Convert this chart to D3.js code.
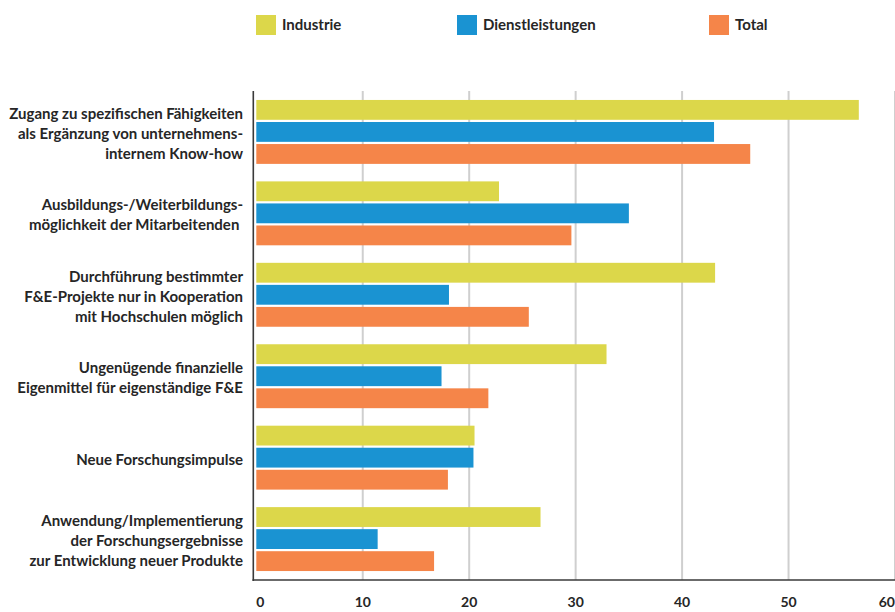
<!DOCTYPE html>
<html>
<head>
<meta charset="utf-8">
<script src="https://cdn.jsdelivr.net/npm/d3@7"></script>
<style>
  html, body { margin: 0; padding: 0; background: #fff; }
  svg { display: block; }
  text { font-family: Lato, "Liberation Sans", sans-serif; font-weight: bold; fill: #262626; }
</style>
</head>
<body>
<svg id="chart" width="895" height="612"></svg>
<script>
// Reasons for cooperation with universities (share of firms, %)
const categories = [
  ["Zugang zu spezifischen Fähigkeiten", "als Ergänzung von unternehmens-", "internem Know-how"],
  ["Ausbildungs-/Weiterbildungs-", "möglichkeit der Mitarbeitenden "],
  ["Durchführung bestimmter", "F&E-Projekte nur in Kooperation", "mit Hochschulen möglich"],
  ["Ungenügende finanzielle", "Eigenmittel für eigenständige F&E"],
  ["Neue Forschungsimpulse"],
  ["Anwendung/Implementierung", "der Forschungsergebnisse", "zur Entwicklung neuer Produkte"]
];
const seriesNames = ["Industrie", "Dienstleistungen", "Total"];
const industrie        = [56.6, 22.8, 43.1, 32.9, 20.5, 26.7];
const dienstleistungen = [43.0, 35.0, 18.1, 17.4, 20.4, 11.4];
const total            = [46.4, 29.6, 25.6, 21.8, 18.0, 16.7];
const xTicks = [0, 10, 20, 30, 40, 50, 60];
const colors = ["#DCD74A", "#1A93D2", "#F58549"];

const seriesValues = [industrie, dienstleistungen, total];
const keys = categories.map(c => c.join(" "));

const svg = d3.select("#chart");
const plotLeft = 256.3, plotRight = 895, plotTop = 91, plotBottom = 580;

const x = d3.scaleLinear().domain([0, 60]).range([plotLeft, plotRight]);
const y = d3.scaleBand().domain(keys).range([plotTop, plotBottom]).paddingInner(0.215).paddingOuter(0.11);
const yInner = d3.scaleBand().domain(seriesNames).range([0, y.bandwidth()]).paddingInner(0.1);

// vertical gridlines
svg.append("g").selectAll("line")
  .data(xTicks.filter(t => t > 0))
  .join("line")
  .attr("x1", d => x(d)).attr("x2", d => x(d))
  .attr("y1", plotTop).attr("y2", plotBottom)
  .attr("stroke", "#cfcfcf").attr("stroke-width", 2);

// bars
const groups = svg.append("g").selectAll("g")
  .data(keys)
  .join("g")
  .attr("transform", d => `translate(0,${y(d)})`);

groups.selectAll("rect")
  .data((d, i) => seriesNames.map((s, j) => ({ s, j, v: seriesValues[j][i] })))
  .join("rect")
  .attr("x", x(0))
  .attr("y", d => yInner(d.s))
  .attr("height", yInner.bandwidth())
  .attr("width", d => x(d.v) - x(0))
  .attr("fill", d => colors[d.j]);

// axis lines
svg.append("line")
  .attr("x1", plotLeft - 3).attr("x2", plotLeft - 3)
  .attr("y1", plotTop).attr("y2", plotBottom + 1)
  .attr("stroke", "#3a3a3a").attr("stroke-width", 1.6);
svg.append("line")
  .attr("x1", plotLeft - 3.8).attr("x2", plotRight)
  .attr("y1", plotBottom).attr("y2", plotBottom)
  .attr("stroke", "#3a3a3a").attr("stroke-width", 1.6);

// x tick labels
svg.append("g").selectAll("text")
  .data(xTicks)
  .join("text")
  .attr("x", d => x(d))
  .attr("y", 607)
  .attr("text-anchor", (d, i) => i === 0 ? "start" : (i === xTicks.length - 1 ? "end" : "middle"))
  .attr("font-size", 14)
  .text(d => d);

// category labels
const lineH = 20;
svg.append("g").selectAll("text")
  .data(categories)
  .join("text")
  .attr("text-anchor", "end")
  .attr("font-size", 15)
  .style("white-space", "pre")
  .attr("transform", (d, i) => {
    const cy = y(keys[i]) + y.bandwidth() / 2;
    return `translate(243,${cy - (d.length - 1) * lineH / 2 + 7})`;
  })
  .selectAll("tspan")
  .data(d => d)
  .join("tspan")
  .attr("x", 0)
  .attr("dy", (d, i) => i === 0 ? 0 : lineH)
  .text(d => d);

// legend
const legendX = [256, 457, 709];
const legend = svg.append("g").selectAll("g")
  .data(seriesNames)
  .join("g")
  .attr("transform", (d, i) => `translate(${legendX[i]},15)`);
legend.append("rect")
  .attr("width", 20).attr("height", 20)
  .attr("fill", (d, i) => colors[i]);
legend.append("text")
  .attr("x", 26).attr("y", 15)
  .attr("font-size", 15)
  .text(d => d);
</script>
</body>
</html>
